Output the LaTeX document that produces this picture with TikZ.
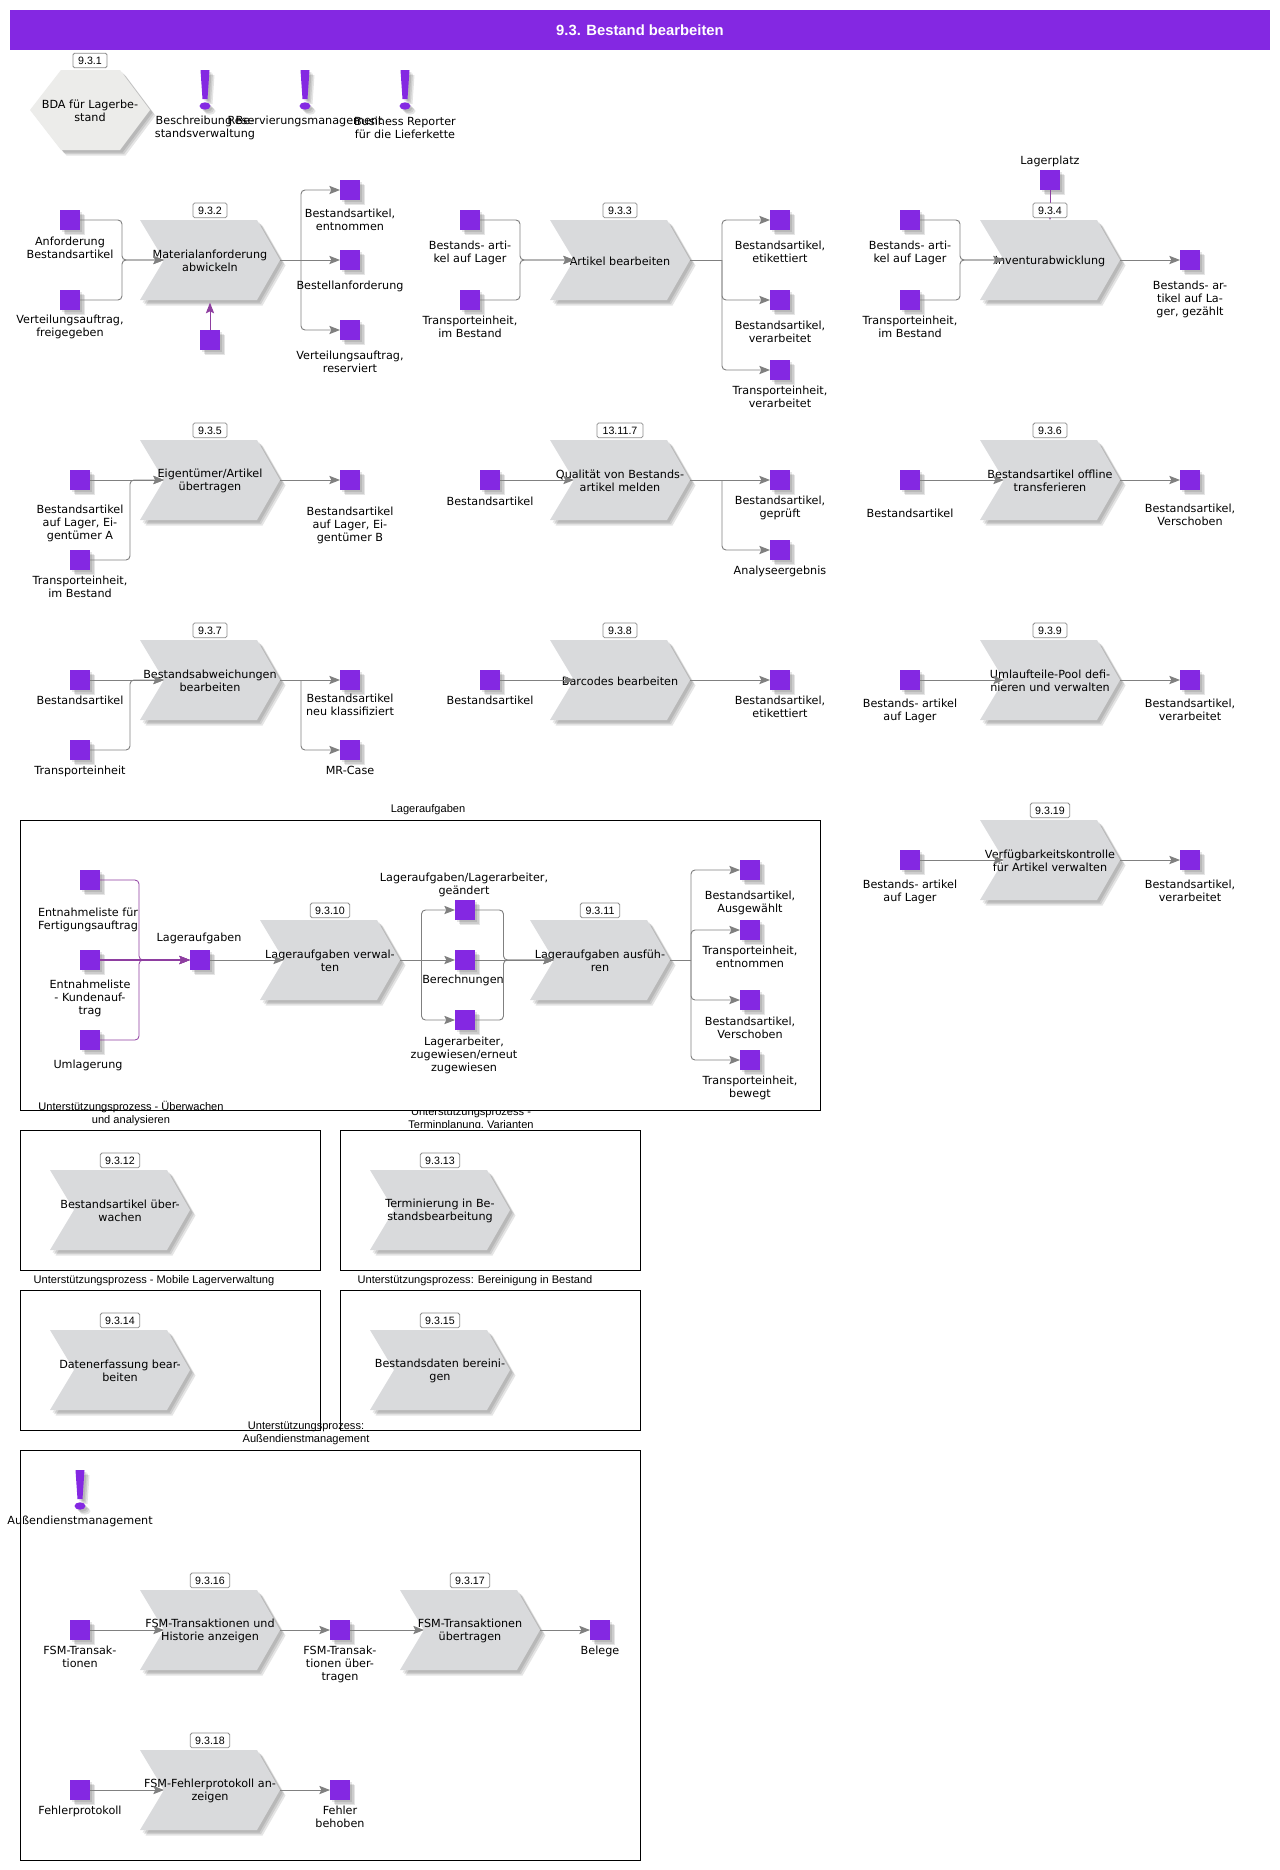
\documentclass[tikz,border=0pt]{standalone}
\usepackage{fontspec}
\setmainfont{DejaVu Sans}
\newfontfamily\arialf{Liberation Sans}
\usetikzlibrary{arrows.meta}
\definecolor{vio}{HTML}{8428E2}
\definecolor{chev}{HTML}{D9DADC}
\definecolor{hexa}{HTML}{ECECEA}
\definecolor{conng}{HTML}{808080}
\definecolor{connp}{HTML}{8E3EA0}
\tikzset{
  x=0.75pt,y=-0.75pt,
  sqr/.style={fill=vio,inset,minimum width=15pt,minimum height=15pt},
  inset/.style={inner sep=0pt,outer sep=0pt},
  sh/.style={fill=black,fill opacity=0.10,draw=none},
  lab/.style={anchor=north,inset,align=center,font=\fontsize{8.4}{9.75}\selectfont},
  ptext/.style={inset,align=center,font=\fontsize{8.4}{9.75}\selectfont},
  pbox/.style={inset,minimum width=105pt,minimum height=60pt},
  numbox/.style={draw=black!45,line width=0.6pt,fill=white,rounded corners=1.2pt,inset,minimum height=11pt,font=\arialf\fontsize{8}{9}\selectfont},
  grp/.style={draw=black,line width=0.75pt},
  gtitle/.style={inset,align=center,font=\arialf\fontsize{8.3}{9.75}\selectfont},
  conn/.style={draw=conng,line width=0.7pt,rounded corners=3pt},
  connv/.style={draw=connp,line width=0.6pt,rounded corners=3pt},
  arr/.style={-{Stealth[length=8pt,width=6.2pt,inset=1.5pt]}},
}
% square with soft shadow
\newcommand{\sq}[3]{%
  \foreach \d in {2,3.5,5}{\fill[sh] ({#2-10+\d},{#3-10+\d}) rectangle ({#2+10+\d},{#3+10+\d});}
  \node[sqr] (#1) at (#2,#3) {};}
% text below an object: name, x, centre y of first line, text
\newcommand{\txt}[4]{\node[lab] (#1) at (#2,{#3-5}) {\strut #4};}
% chevron path
\newcommand{\chevpath}[3]{({#1-70+#3},{#2-40+#3}) -- ({#1+47+#3},{#2-40+#3}) -- ({#1+70+#3},{#2+#3}) -- ({#1+47+#3},{#2+40+#3}) -- ({#1-70+#3},{#2+40+#3}) -- ({#1-46+#3},{#2+#3}) -- cycle}
% process: name,cx,cy,text,number,box width in pt
\newcommand{\proc}[6]{%
  \foreach \d in {2.5,4,5.5}{\fill[sh] \chevpath{#2}{#3}{\d};}
  \fill[chev] \chevpath{#2}{#3}{0};
  \node[pbox] (#1) at (#2,#3) {};
  \node[ptext] (#1t) at (#2,{#3+1.3}) {#4};
  \node[numbox,minimum width=#6] (#1n) at (#2,{#3-49.6}) {#5};}
\newcommand{\excl}[3]{%
  \foreach \d in {2,3.5,5}{
    \fill[sh] ({#1-4.5+\d},{#2+\d}) -- ({#1+4.5+\d},{#2+\d}) -- ({#1+2.5+\d},{#2+29+\d}) -- ({#1-2.5+\d},{#2+29+\d}) -- cycle;
    \fill[sh] ({#1+\d},{#2+36+\d}) ellipse [x radius=5.5,y radius=3.7];}
  \coordinate (#3) at (#1,#2);
  \fill[vio] (#3) ++(-4.5,0) -- ++(9,0) -- ++(-2,29) -- ++(-5,0) -- cycle;
  \fill[vio] (#1,{#2+36}) ellipse [x radius=5.5,y radius=3.7];}
\newcommand{\inj}[3]{\draw[conn,arr] (#1.east) -| (#2) -- ([xshift=18pt]#3.west);}
\newcommand{\ins}[2]{\draw[conn,arr] (#1.east) -- ([xshift=18pt]#2.west);}
\newcommand{\outs}[2]{\draw[conn,arr] (#1.east) -- (#2.west);}
\newcommand{\outb}[2]{\draw[conn,arr] (#1) |- (#2.west);}
\begin{document}
\begin{tikzpicture}
\useasboundingbox (0,0) rectangle (1280,1870);
\fill[white] (0,0) rectangle (1280,1870);
% group frames
\draw[grp] (20,820) rectangle (820,1110);
\draw[grp] (20,1130) rectangle (320,1270);
\draw[grp] (340,1130) rectangle (640,1270);
\draw[grp] (20,1290) rectangle (320,1430);
\draw[grp] (340,1290) rectangle (640,1430);
\draw[grp] (20,1450) rectangle (640,1860);
% header
\node[fill=vio,inset,minimum width=945pt,minimum height=30pt,text=white,font=\arialf\bfseries\fontsize{11.1}{12}\selectfont] (head) at (640,30) {9.3. Bestand bearbeiten};
% row 1
\foreach \d in {2.5,4,5.5}{\fill[sh] ({30+\d+31},{70+\d}) -- ({120+\d},{70+\d}) -- ({150+\d},{110+\d}) -- ({120+\d},{150+\d}) -- ({61+\d},{150+\d}) -- ({30+\d},{110+\d}) -- cycle;}
\fill[hexa] (61,70) -- (120,70) -- (150,110) -- (120,150) -- (61,150) -- (30,110) -- cycle;
\node[ptext] (bda) at (90,111) {BDA für Lagerbe-\\stand};
\node[numbox,minimum width=25.5pt] (bdan) at (90,60.5) {9.3.1};
\excl{205}{70}{e1} \excl{305}{70}{e2} \excl{405}{70}{e3}
\txt{te1}{205}{120}{Beschreibung Be-\\standsverwaltung}
\txt{te2}{305}{120}{Reservierungsmanagement}
\txt{te3}{405}{121}{Business Reporter\\für die Lieferkette}
% row 2
\proc{p2}{210}{260}{Materialanforderung\\abwickeln}{9.3.2}{25.5pt}
\sq{a1}{70}{220}\sq{a2}{70}{300}\sq{a3}{210}{340}
\sq{a4}{350}{190}\sq{a5}{350}{260}\sq{a6}{350}{330}
\coordinate (ma) at (122,260);\coordinate (mb) at (301,260);
\inj{a1}{ma}{p2}\inj{a2}{ma}{p2}
\outs{p2}{a5}\outb{mb}{a4}\outb{mb}{a6}
\draw[connv,line width=0.7pt,arr] (a3.north) -- ([yshift=-2pt]p2.south);
\txt{ta1}{70}{241}{Anforderung\\Bestandsartikel}
\txt{ta2}{70}{319}{Verteilungsauftrag,\\freigegeben}
\txt{ta4}{350}{213}{Bestandsartikel,\\entnommen}
\txt{ta5}{350}{285}{Bestellanforderung}
\txt{ta6}{350}{355}{Verteilungsauftrag,\\reserviert}
\proc{p3}{620}{260}{Artikel bearbeiten}{9.3.3}{25.5pt}
\sq{b1}{470}{220}\sq{b2}{470}{300}
\sq{b3}{780}{220}\sq{b4}{780}{300}\sq{b5}{780}{370}
\coordinate (mc) at (520,260);\coordinate (md) at (722,260);
\inj{b1}{mc}{p3}\inj{b2}{mc}{p3}
\draw[conn] (p3.east) -- (md);
\outb{md}{b3}\outb{md}{b4}\outb{md}{b5}
\txt{tb1}{470}{245}{Bestands- arti-\\kel auf Lager}
\txt{tb2}{470}{320}{Transporteinheit,\\im Bestand}
\txt{tb3}{780}{245}{Bestandsartikel,\\etikettiert}
\txt{tb4}{780}{325}{Bestandsartikel,\\verarbeitet}
\txt{tb5}{780}{390}{Transporteinheit,\\verarbeitet}
\sq{c0}{1050}{180}
\draw[connv,-{Stealth[length=5pt,width=4pt]}] (c0.south) -- (1050,220) coordinate (p4top);
\proc{p4}{1050}{260}{Inventurabwicklung}{9.3.4}{25.5pt}
\sq{c1}{910}{220}\sq{c2}{910}{300}\sq{c3}{1190}{260}
\coordinate (me) at (960,260);
\inj{c1}{me}{p4}\inj{c2}{me}{p4}\outs{p4}{c3}
\txt{tc0}{1050}{160}{Lagerplatz}
\txt{tc1}{910}{245}{Bestands- arti-\\kel auf Lager}
\txt{tc2}{910}{320}{Transporteinheit,\\im Bestand}
\txt{tc3}{1190}{285}{Bestands- ar-\\tikel auf La-\\ger, gezählt}
% row 3
\proc{p5}{210}{480}{Eigentümer/Artikel\\übertragen}{9.3.5}{25.5pt}
\sq{d1}{80}{480}\sq{d2}{80}{560}\sq{d3}{350}{480}
\coordinate (mf) at (130,480);
\ins{d1}{p5}\inj{d2}{mf}{p5}\outs{p5}{d3}
\txt{td1}{80}{509}{Bestandsartikel\\auf Lager, Ei-\\gentümer A}
\txt{td2}{80}{580}{Transporteinheit,\\im Bestand}
\txt{td3}{350}{511}{Bestandsartikel\\auf Lager, Ei-\\gentümer B}
\proc{p6}{620}{480}{Qualität von Bestands-\\artikel melden}{13.11.7}{34.5pt}
\sq{e4}{490}{480}\sq{e5}{780}{480}\sq{e6}{780}{550}
\coordinate (mg) at (722,480);
\ins{e4}{p6}\outs{p6}{e5}\outb{mg}{e6}
\txt{te4}{490}{501}{Bestandsartikel}
\txt{te5}{780}{500}{Bestandsartikel,\\geprüft}
\txt{te6}{780}{570}{Analyseergebnis}
\proc{p7}{1050}{480}{Bestandsartikel offline\\transferieren}{9.3.6}{25.5pt}
\sq{f1}{910}{480}\sq{f2}{1190}{480}
\ins{f1}{p7}\outs{p7}{f2}
\txt{tf1}{910}{513}{Bestandsartikel}
\txt{tf2}{1190}{508}{Bestandsartikel,\\Verschoben}
% row 4
\proc{p8}{210}{680}{Bestandsabweichungen\\bearbeiten}{9.3.7}{25.5pt}
\sq{g1}{80}{680}\sq{g2}{80}{750}\sq{g3}{350}{680}\sq{g4}{350}{750}
\coordinate (mh) at (130,680);\coordinate (mi) at (301,680);
\ins{g1}{p8}\inj{g2}{mh}{p8}\outs{p8}{g3}\outb{mi}{g4}
\txt{tg1}{80}{700}{Bestandsartikel}
\txt{tg2}{80}{770}{Transporteinheit}
\txt{tg3}{350}{698}{Bestandsartikel\\neu klassifiziert}
\txt{tg4}{350}{770}{MR-Case}
\proc{p9}{620}{680}{Barcodes bearbeiten}{9.3.8}{25.5pt}
\sq{h1}{490}{680}\sq{h2}{780}{680}
\ins{h1}{p9}\outs{p9}{h2}
\txt{th1}{490}{700}{Bestandsartikel}
\txt{th2}{780}{700}{Bestandsartikel,\\etikettiert}
\proc{p10}{1050}{680}{Umlaufteile-Pool defi-\\nieren und verwalten}{9.3.9}{25.5pt}
\sq{i1}{910}{680}\sq{i2}{1190}{680}
\ins{i1}{p10}\outs{p10}{i2}
\txt{ti1}{910}{703}{Bestands- artikel\\auf Lager}
\txt{ti2}{1190}{703}{Bestandsartikel,\\verarbeitet}
\proc{p19}{1050}{860}{Verfügbarkeitskontrolle\\für Artikel verwalten}{9.3.19}{29.5pt}
\sq{j1}{910}{860}\sq{j2}{1190}{860}
\ins{j1}{p19}\outs{p19}{j2}
\txt{tj1}{910}{884}{Bestands- artikel\\auf Lager}
\txt{tj2}{1190}{884}{Bestandsartikel,\\verarbeitet}
% Lageraufgaben
\node[gtitle] (g1t) at (428,810) {Lageraufgaben};
\proc{p11}{330}{960}{Lageraufgaben verwal-\\ten}{9.3.10}{29.5pt}
\proc{p12}{600}{960}{Lageraufgaben ausfüh-\\ren}{9.3.11}{29.5pt}
\sq{k1}{90}{880}\sq{k2}{90}{960}\sq{k3}{90}{1040}\sq{k4}{200}{960}
\sq{k5}{465}{910}\sq{k6}{465}{960}\sq{k7}{465}{1020}
\sq{k8}{750}{870}\sq{k9}{750}{930}\sq{k10}{750}{1000}\sq{k11}{750}{1060}
\coordinate (mj) at (139,960);\coordinate (mk) at (421.5,960);\coordinate (ml) at (503.5,960);\coordinate (mm) at (691,960);
\draw[connv,arr] (k1.east) -| (mj) -- (k4.west);
\draw[connv,line width=0.8pt,arr] (k2.east) -- (k4.west);
\draw[connv,arr] (k3.east) -| (mj) -- (k4.west);
\ins{k4}{p11}
\outs{p11}{k6}\outb{mk}{k5}\outb{mk}{k7}
\inj{k5}{ml}{p12}\ins{k6}{p12}\inj{k7}{ml}{p12}
\draw[conn] (p12.east) -- (mm);
\outb{mm}{k8}\outb{mm}{k9}\outb{mm}{k10}\outb{mm}{k11}
\txt{tk1}{88}{912}{Entnahmeliste für\\Fertigungsauftrag}
\txt{tk2}{90}{984}{Entnahmeliste\\- Kundenauf-\\trag}
\txt{tk3}{88}{1064}{Umlagerung}
\txt{tk4}{199}{937}{Lageraufgaben}
\txt{tk5}{464}{877}{Lageraufgaben/Lagerarbeiter,\\geändert}
\txt{tk6}{463}{979}{Berechnungen}
\txt{tk7}{464}{1041}{Lagerarbeiter,\\zugewiesen/erneut\\zugewiesen}
\txt{tk8}{750}{895}{Bestandsartikel,\\Ausgewählt}
\txt{tk9}{750}{950}{Transporteinheit,\\entnommen}
\txt{tk10}{750}{1021}{Bestandsartikel,\\Verschoben}
\txt{tk11}{750}{1080}{Transporteinheit,\\bewegt}
% support boxes
\node[gtitle] (g2t) at (131,1113.5) {Unterstützungsprozess - Überwachen\\und analysieren};
\begin{scope}
\clip (340,1110.5) rectangle (640,1127);
\node[gtitle] (g3t) at (471,1119) {Unterstützungsprozess -\\Terminplanung, Varianten};
\end{scope}
\node[gtitle] (g4t) at (154,1280.5) {Unterstützungsprozess - Mobile Lagerverwaltung};
\node[gtitle] (g5t) at (475,1280.5) {Unterstützungsprozess: Bereinigung in Bestand};
\node[gtitle] (g6t) at (306,1433) {Unterstützungsprozess:\\Außendienstmanagement};
\proc{q1}{120}{1210}{Bestandsartikel über-\\wachen}{9.3.12}{29.5pt}
\proc{q2}{440}{1210}{Terminierung in Be-\\standsbearbeitung}{9.3.13}{29.5pt}
\proc{q3}{120}{1370}{Datenerfassung bear-\\beiten}{9.3.14}{29.5pt}
\proc{q4}{440}{1370}{Bestandsdaten bereini-\\gen}{9.3.15}{29.5pt}
% field service
\excl{80}{1470}{e4x}
\txt{tl0}{80}{1520}{Außendienstmanagement}
\proc{r1}{210}{1630}{FSM-Transaktionen und\\Historie anzeigen}{9.3.16}{29.5pt}
\proc{r2}{470}{1630}{FSM-Transaktionen\\übertragen}{9.3.17}{29.5pt}
\proc{r3}{210}{1790}{FSM-Fehlerprotokoll an-\\zeigen}{9.3.18}{29.5pt}
\sq{l1}{80}{1630}\sq{l2}{340}{1630}\sq{l3}{600}{1630}
\sq{l4}{80}{1790}\sq{l5}{340}{1790}
\ins{l1}{r1}\outs{r1}{l2}\ins{l2}{r2}\outs{r2}{l3}
\ins{l4}{r3}\outs{r3}{l5}
\txt{tl1}{80}{1650}{FSM-Transak-\\tionen}
\txt{tl2}{340}{1650}{FSM-Transak-\\tionen über-\\tragen}
\txt{tl3}{600}{1650}{Belege}
\txt{tl4}{80}{1810}{Fehlerprotokoll}
\txt{tl5}{340}{1810}{Fehler\\behoben}
\end{tikzpicture}
\end{document}
